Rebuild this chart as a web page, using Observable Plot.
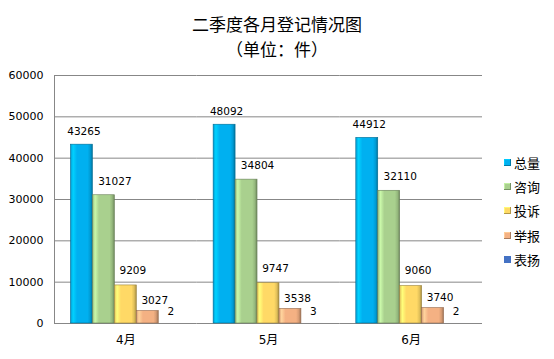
<!DOCTYPE html>
<html>
<head>
<meta charset="utf-8">
<script src="https://cdn.jsdelivr.net/npm/d3@7"></script>
<script src="https://cdn.jsdelivr.net/npm/@observablehq/plot@0.6"></script>
<style>
  body { margin: 0; background: #fff; }
  #wrap { position: relative; width: 554px; height: 359px; overflow: hidden; font-family: "Noto Sans CJK SC", "DejaVu Sans", sans-serif; }
  #title { height: 62px; text-align: center; color: #000; font-size: 17px; line-height: 25px; padding-top: 11px; box-sizing: border-box; }
  #legend { position: absolute; left: 504px; top: 150px; font-size: 13px; color: #000; }
  #legend .row { height: 24.3px; display: flex; align-items: center; }
  #legend .sw { width: 7px; height: 7px; margin-right: 3px; }
</style>
</head>
<body>
<svg width="0" height="0" style="position:absolute">
  <defs id="defs"></defs>
</svg>
<div id="wrap">
  <div id="title"><div>二季度各月登记情况图</div><div>（单位：件）</div></div>
  <div id="chart"></div>
  <div id="legend"></div>
</div>
<script>
const months = ["4月", "5月", "6月"];
const series = ["总量", "咨询", "投诉", "举报", "表扬"];
const total = [43265, 48092, 44912];
const consult = [31027, 34804, 32110];
const complaint = [9209, 9747, 9060];
const report = [3027, 3538, 3740];
const praise = [2, 3, 2];
const yTicks = [0, 10000, 20000, 30000, 40000, 50000, 60000];

// styling (not data): colours and label nudges per series
const baseColors = ["#00B0F0", "#A9D08E", "#FFD966", "#F4B183", "#4472C4"];
const labelDx = [2, 11, 7, 7, 1];
const labelDy = [-13, -14, -15, -10, -12];

// gradients for a bevelled look
const defs = document.getElementById("defs");
baseColors.forEach((c, i) => {
  const col = d3.color(c);
  const dark = col.darker(1.2).formatHex();
  const mid = col.darker(0.35).formatHex();
  const light = col.brighter(0.5).formatHex();
  defs.innerHTML += `<linearGradient id="g${i}" x1="0" x2="1" y1="0" y2="0">
    <stop offset="0" stop-color="${mid}"/>
    <stop offset="0.12" stop-color="${light}"/>
    <stop offset="0.3" stop-color="${c}"/>
    <stop offset="0.78" stop-color="${c}"/>
    <stop offset="0.9" stop-color="${mid}"/>
    <stop offset="1" stop-color="${dark}"/>
  </linearGradient>`;
});

const valuesBySeries = [total, consult, complaint, report, praise];
const data = [];
months.forEach((m, mi) => {
  series.forEach((s, si) => {
    data.push({month: m, series: s, value: valuesBySeries[si][mi]});
  });
});

const chart = Plot.plot({
  width: 554,
  height: 297,
  marginTop: 13,
  marginBottom: 36,
  marginLeft: 54,
  marginRight: 72,
  style: {fontFamily: "'DejaVu Sans', 'Noto Sans CJK SC', sans-serif", fontSize: "11px", color: "#000", background: "transparent"},
  fx: {domain: months, padding: 0, round: false, label: null, axis: null},
  x: {domain: series, paddingInner: 0, paddingOuter: 0.75, round: false, axis: null},
  y: {domain: [0, 60000], label: null},
  color: {domain: series, range: series.map((s, i) => `url(#g${i})`)},
  marks: [
    Plot.gridY(yTicks, {stroke: "#878787", strokeOpacity: 1, strokeWidth: 1}),
    Plot.axisY(yTicks, {tickSize: 0, tickPadding: 11, tickFormat: d => String(d), fontSize: 11, label: null}),
    Plot.axisFx({anchor: "bottom", tickSize: 0, tickPadding: 12, fontSize: 12, label: null}),
    Plot.frame({anchor: "left", facetAnchor: "left", stroke: "#878787"}),
    Plot.barY(data, {fx: "month", x: "series", y: "value", fill: "series", inset: 0}),
    ...series.map((s, i) => Plot.text(data.filter(d => d.series === s), {
      fx: "month", x: "series", y: "value", text: d => String(d.value),
      dx: labelDx[i], dy: labelDy[i], fontSize: 10.5, fill: "#000"
    }))
  ]
});
// darker outlines per series (not on the near-zero series)
chart.querySelectorAll("rect").forEach(r => {
  const f = r.getAttribute("fill") || "";
  const m = f.match(/#g(\d)/);
  if (m && +m[1] < 4) { r.setAttribute("stroke", d3.color(baseColors[+m[1]]).darker(1.4).formatHex()); r.setAttribute("stroke-width", "0.6"); }
});
document.getElementById("chart").appendChild(chart);

const legend = document.getElementById("legend");
series.forEach((s, i) => {
  const row = document.createElement("div");
  row.className = "row";
  const sw = document.createElement("span");
  sw.className = "sw";
  sw.style.background = baseColors[i];
  if (i < 4) sw.style.boxShadow = `inset -1px -1px 0 ${d3.color(baseColors[i]).darker(1).formatHex()}, inset 1px 1px 0 ${d3.color(baseColors[i]).brighter(0.4).formatHex()}`;
  const t = document.createElement("span");
  t.textContent = s;
  row.appendChild(sw);
  row.appendChild(t);
  legend.appendChild(row);
});
</script>
</body>
</html>
